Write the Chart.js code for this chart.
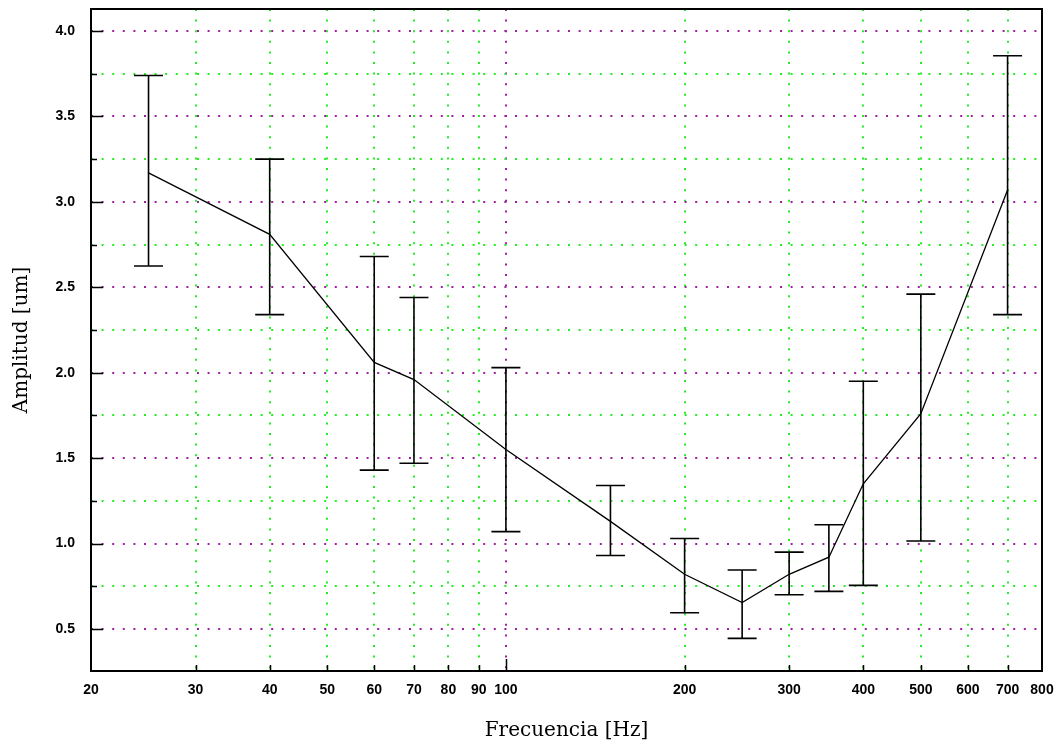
<!DOCTYPE html>
<html>

<head>
    <script src="https://cdn.jsdelivr.net/npm/chart.js@4.4.0/dist/chart.umd.min.js"></script>
    <style>
        body {
            margin: 0;
            background: #ffffff;
        }
    </style>
</head>

<body>
    <canvas id="amp-chart" width="1063" height="747"></canvas>

    <script>
        // frequency [Hz] and measured amplitude [um], with the error bar ends
        const freq = [25, 40, 60, 70, 100, 150, 200, 250, 300, 350, 400, 500, 700]
        const amp = [3.17, 2.81, 2.06, 1.96, 1.55, 1.13, 0.82, 0.655, 0.82, 0.92, 1.35, 1.76, 3.07]
        const ampLow = [2.625, 2.34, 1.43, 1.47, 1.07, 0.93, 0.595, 0.445, 0.70, 0.72, 0.755, 1.015, 2.34]
        const ampHigh = [3.74, 3.25, 2.68, 2.44, 2.03, 1.34, 1.03, 0.845, 0.95, 1.11, 1.95, 2.46, 3.855]

        const xTicks = [20, 30, 40, 50, 60, 70, 80, 90, 100, 200, 300, 400, 500, 600, 700, 800]
        const xTickLabels = ['20', '30', '40', '50', '60', '70', '80', '90', '100',
            '200', '300', '400', '500', '600', '700', '800']
        const yTicks = [0.5, 0.75, 1.0, 1.25, 1.5, 1.75, 2.0, 2.25, 2.5, 2.75,
            3.0, 3.25, 3.5, 3.75, 4.0]
        const yTickLabels = ['0.5', '', '1.0', '', '1.5', '', '2.0', '', '2.5', '',
            '3.0', '', '3.5', '', '4.0']

        const purple = '#a020a0'
        const green = '#22ee22'
        const dots = [2, 8.6]

        function isMajorY(v) {
            return Math.abs(v * 2 - Math.round(v * 2)) < 1e-6
        }

        // border box, inward tick marks and error bars
        const frame = {
            id: 'frame',
            afterDatasetsDraw(chart) {
                const ctx = chart.ctx
                const a = chart.chartArea
                const xs = chart.scales.x
                const ys = chart.scales.y
                ctx.save()
                ctx.strokeStyle = '#000'
                ctx.lineWidth = 1.6
                for (let i = 0; i < freq.length; i++) {
                    const px = xs.getPixelForValue(freq[i])
                    const lo = ys.getPixelForValue(ampLow[i])
                    const hi = ys.getPixelForValue(ampHigh[i])
                    ctx.beginPath()
                    ctx.moveTo(px, lo)
                    ctx.lineTo(px, hi)
                    ctx.moveTo(px - 14.5, lo)
                    ctx.lineTo(px + 14.5, lo)
                    ctx.moveTo(px - 14.5, hi)
                    ctx.lineTo(px + 14.5, hi)
                    ctx.stroke()
                }
                ctx.lineWidth = 1.5
                ctx.beginPath()
                for (let i = 0; i < yTicks.length; i++) {
                    const py = Math.round(ys.getPixelForValue(yTicks[i])) + 0.5
                    ctx.moveTo(a.left, py)
                    ctx.lineTo(a.left + (yTickLabels[i] ? 12 : 6), py)
                }
                for (let i = 1; i < xTicks.length - 1; i++) {
                    const px = Math.round(xs.getPixelForValue(xTicks[i])) + 0.5
                    ctx.moveTo(px, a.bottom)
                    ctx.lineTo(px, a.bottom - (xTicks[i] === 100 ? 12 : 6))
                }
                ctx.stroke()
                ctx.lineWidth = 2
                ctx.strokeRect(a.left, a.top, a.right - a.left, a.bottom - a.top)
                ctx.restore()
            }
        }

        new Chart(document.getElementById('amp-chart').getContext('2d'), {
            type: 'line',
            data: {
                datasets: [{
                    label: 'amplitud',
                    data: freq.map((f, i) => ({ x: f, y: amp[i] })),
                    borderColor: '#000000',
                    borderWidth: 1.3,
                    pointRadius: 0,
                    tension: 0,
                    fill: false
                }]
            },
            options: {
                responsive: false,
                animation: false,
                devicePixelRatio: 1,
                layout: {
                    padding: { top: 9, right: 21, left: 0, bottom: 0 }
                },
                plugins: {
                    legend: { display: false },
                    tooltip: { enabled: false }
                },
                scales: {
                    x: {
                        type: 'logarithmic',
                        min: 20,
                        max: 800,
                        afterBuildTicks: s => { s.ticks = xTicks.map(v => ({ value: v })) },
                        afterFit: s => {
                            s.height = 76
                            s.paddingLeft = 0
                            s.paddingRight = 0
                        },
                        grid: {
                            drawTicks: false,
                            lineWidth: 2,
                            color: c => {
                                const v = c.tick && c.tick.value
                                if (v === 20 || v === 800) return 'rgba(0,0,0,0)'
                                return v === 100 ? purple : green
                            }
                        },
                        border: { display: false, dash: dots },
                        ticks: {
                            autoSkip: false,
                            maxRotation: 0,
                            padding: 11,
                            color: '#000',
                            font: { family: 'Liberation Sans', size: 14, weight: 'bold' },
                            callback: (v, i) => xTickLabels[i]
                        },
                        title: {
                            display: true,
                            text: 'Frecuencia [Hz]',
                            color: '#000',
                            padding: { top: 0, bottom: 4 },
                            font: { family: 'DejaVu Serif', size: 20 }
                        }
                    },
                    y: {
                        min: 0.254,
                        max: 4.129,
                        afterBuildTicks: s => { s.ticks = yTicks.map(v => ({ value: v })) },
                        afterFit: s => {
                            s.width = 91
                            s.paddingTop = 0
                            s.paddingBottom = 0
                        },
                        grid: {
                            drawTicks: false,
                            lineWidth: 2,
                            color: c => isMajorY(c.tick.value) ? purple : green
                        },
                        border: { display: false, dash: dots },
                        ticks: {
                            padding: 16,
                            color: '#000',
                            font: { family: 'Liberation Sans', size: 14, weight: 'bold' },
                            callback: (v, i) => yTickLabels[i]
                        },
                        title: {
                            display: true,
                            text: 'Amplitud [um]',
                            color: '#000',
                            padding: { top: 10, bottom: 0 },
                            font: { family: 'DejaVu Serif', size: 20 }
                        }
                    }
                }
            },
            plugins: [frame]
        });
    </script>
</body>

</html>
